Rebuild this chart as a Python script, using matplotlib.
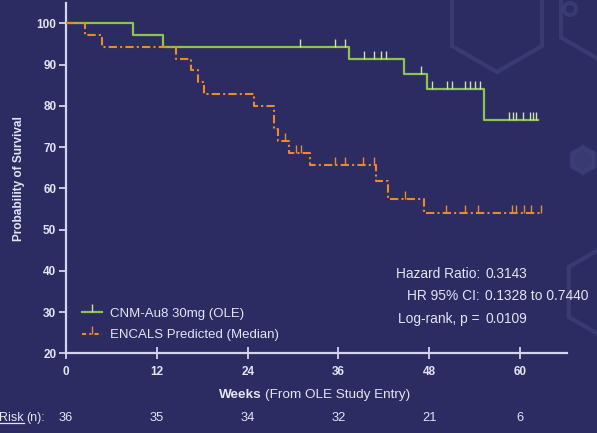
import numpy as np
import matplotlib
matplotlib.use("Agg")
import matplotlib.pyplot as plt
from matplotlib.lines import Line2D
from matplotlib.patches import RegularPolygon, Circle
from matplotlib.transforms import IdentityTransform, blended_transform_factory

plt.rcParams['font.family'] = ['Liberation Sans', 'DejaVu Sans']

# Kaplan-Meier steps (weeks, survival %)
ole_times = [0, 8.8, 12.8, 37.4, 44.7, 47.7, 55.2]
ole_surv = [100, 97.1, 94.3, 91.4, 87.8, 84.1, 76.5]
ole_end = 62.4
ole_censored = [30.9, 35.5, 36.9, 39.4, 40.75, 41.6, 42.3, 46.9,
                48.3, 50.3, 51.0, 52.7, 53.4, 54.0, 54.7,
                58.6, 59.1, 59.5, 60.4, 61.3, 61.7, 62.1]

encals_times = [0, 2.5, 4.8, 14.5, 16.5, 17.4, 18.2, 24.9, 27.5, 28.0, 29.5, 32.3, 40.9, 42.6, 47.3]
encals_surv = [100, 97.1, 94.3, 91.4, 88.6, 85.7, 82.9, 80.0, 74.3, 71.4, 68.6, 65.7, 61.7, 57.4, 54.0]
encals_end = 62.9
encals_censored = [28.9, 30.4, 31.0, 35.6, 36.9, 39.3, 40.7, 44.8,
                   50.2, 52.7, 54.5, 58.9, 59.4, 60.5, 61.5, 62.8]

week_ticks = [0, 12, 24, 36, 48, 60]
at_risk = [36, 35, 34, 32, 21, 6]
stat_names = ["Hazard Ratio:", "HR 95% CI:", "Log-rank, p ="]
stat_values = ["0.3143", "0.1328 to 0.7440", "0.0109"]

bg = '#2c2b62'
fg = '#e4e4f2'
axis_col = '#d4d4ec'
green = '#8cc44e'
green_tick = '#c8e6a0'
orange = '#e98a2e'
W, H = 597, 433

fig = plt.figure(figsize=(W / 100, H / 100), dpi=100, facecolor=bg)

# faint hexagon decoration in the background
deco = '#3f407a'
for (cx, cy, r, filled) in [(497, H - 20, 52, False), (600, H - 15, 45, False),
                            (583, H - 160, 13, True), (612, H - 292, 50, False)]:
    hexa = RegularPolygon((cx, cy), 6, radius=r, orientation=0,
                          transform=IdentityTransform(), zorder=-2,
                          facecolor=deco if filled else 'none',
                          edgecolor=deco, lw=3, alpha=0.75)
    fig.add_artist(hexa)
fig.add_artist(Circle((570, H - 9), 6, transform=IdentityTransform(), zorder=-2,
                      facecolor='none', edgecolor=deco, lw=3, alpha=0.75))

ax = fig.add_axes([66 / W, 1 - 353.3 / H, (567 - 66) / W, 350 / H])
ax.set_facecolor('none')
ax.set_xlim(0, 66.2)
ax.set_ylim(20, 104.85)


def km_line(times, surv, end):
    t = np.append(times, end)
    s = np.append(surv, surv[-1])
    return t, s


def level_at(times, surv, pts):
    idx = np.searchsorted(times, pts, side='right') - 1
    return np.asarray(surv)[idx]


t, s = km_line(ole_times, ole_surv, ole_end)
ax.step(t, s, where='post', color=green, lw=1.6, zorder=3)
ax.plot(ole_censored, level_at(ole_times, ole_surv, ole_censored), ls='none',
        marker=2, ms=6, mew=1.0, color=green_tick, zorder=4)

t, s = km_line(encals_times, encals_surv, encals_end)
ax.step(t, s, where='post', color=orange, lw=1.5, ls=(0, (4, 1.5, 1, 1.5)), zorder=3)
ax.plot(encals_censored, level_at(encals_times, encals_surv, encals_censored), ls='none',
        marker=2, ms=6, mew=1.0, color=orange, zorder=4)

for side in ['top', 'right']:
    ax.spines[side].set_visible(False)
for side in ['left', 'bottom']:
    ax.spines[side].set_color(axis_col)
    ax.spines[side].set_linewidth(1.6)

ax.set_xticks(week_ticks)
ax.set_yticks(range(20, 101, 10))
ax.tick_params(axis='y', colors=axis_col, direction='out', length=5, width=1.3,
               labelsize=8.5, labelcolor=fg, pad=2)
ax.tick_params(axis='x', colors=axis_col, direction='inout', length=8, width=1.3,
               labelsize=8.5, labelcolor=fg, pad=5)
for lab in ax.get_xticklabels() + ax.get_yticklabels():
    lab.set_fontweight('bold')

fig.text(19 / W, 1 - 178.6 / H, "Probability of Survival", rotation=90, ha='center',
         va='center', fontsize=8.5, fontweight='bold', color=fg)

fig.text(262 / W, 1 - 395 / H, "Weeks", ha='right', va='center', fontsize=9.7,
         fontweight='bold', color=fg)
fig.text(265 / W, 1 - 395 / H, "(From OLE Study Entry)", ha='left', va='center',
         fontsize=9.7, color=fg)

# number at risk row
risk_tr = blended_transform_factory(ax.transData, fig.transFigure)
for wk, n in zip(week_ticks, at_risk):
    ax.text(wk, 1 - 418 / H, str(n), transform=risk_tr, ha='center', va='center',
            fontsize=9.3, color=fg)
risk_word = fig.text(-1 / W, 1 - 418 / H, "Risk", ha='left', va='center', fontsize=9, color=fg)
fig.text(26 / W, 1 - 418 / H, "(n):", ha='left', va='center', fontsize=9, color=fg)

# stats box
for i, (name, val) in enumerate(zip(stat_names, stat_values)):
    y = 1 - (274 + 22.5 * i) / H
    fig.text(480 / W, y, name, ha='right', va='center', fontsize=9.9, color=fg)
    fig.text(485 / W, y, val, ha='left', va='center', fontsize=9.9, color=fg)

handles = [Line2D([], [], color=green, lw=1.6, marker=2, ms=6, mec=green_tick, mew=1.0),
           Line2D([], [], color=orange, lw=1.5, ls=(0, (2, 1.5, 1, 1.5)), marker=2, ms=6, mew=1.0)]
leg = ax.legend(handles, ["CNM-Au8 30mg (OLE)", "ENCALS Predicted (Median)"],
                loc='lower left', bbox_to_anchor=(0.008, 0.0), frameon=False,
                fontsize=9.5, handlelength=1.5, handletextpad=0.6, labelspacing=0.7,
                labelcolor=fg)

# underline under "Risk"
fig.canvas.draw()
bb = risk_word.get_window_extent()
fig.add_artist(Line2D([bb.x0, bb.x1], [bb.y0 + 1, bb.y0 + 1], color=fg, lw=0.9,
                      transform=IdentityTransform()))

fig.savefig("out.png", dpi=100, facecolor=bg)
